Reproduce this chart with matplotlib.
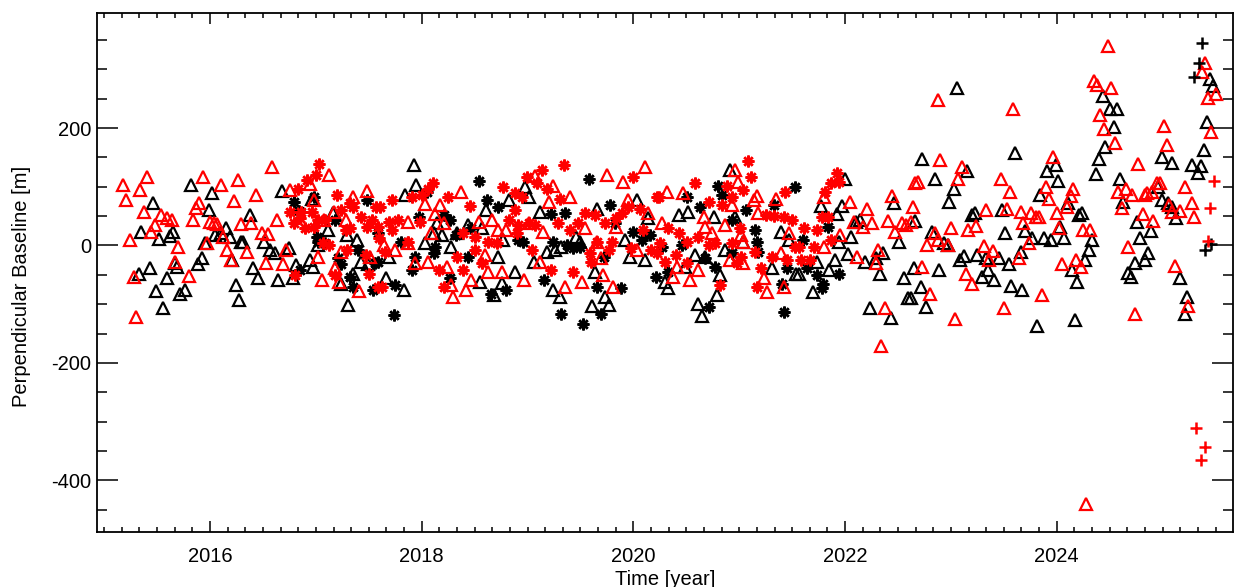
import matplotlib
matplotlib.use("Agg")
import matplotlib.pyplot as plt
from matplotlib.ticker import MultipleLocator, FormatStrFormatter

plt.rcParams['font.family'] = ['Liberation Sans', 'DejaVu Sans']

# ---- data: (time [decimal year], perpendicular baseline [m]) ----
tri_black = [
    (2015.35,23),(2015.33,-48),(2015.43,-39),(2015.49,-78),(2015.46,73),(2015.52,11),(2015.62,16),(2015.65,23),
    (2015.59,-56),(2015.56,-107),(2015.69,-36),(2015.67,-29),(2015.72,-82),(2015.76,-75),(2015.82,103),(2016.02,90),
    (2015.99,60),(2015.89,-32),(2015.92,-22),(2015.95,4),(2016.05,18),(2016.10,22),(2016.15,29),(2016.19,15),
    (2016.21,-24),(2016.25,-67),(2016.27,-92),(2016.29,6),
    (2016.38,52),(2016.31,6),(2016.41,-39),(2016.45,-56),(2016.51,6),(2016.57,-8),(2016.61,-13),(2016.64,-58),
    (2016.75,-5),(2016.78,-56),(2016.81,-33),(2016.94,-25),(2016.97,-37),(2016.68,93),(2016.96,80),(2017.11,26),
    (2017.02,1),(2017.16,56),(2017.29,18),(2017.39,10),(2017.30,-101),(2017.43,-28),(2017.49,-32),(2017.35,-48),(2017.24,-65),
    (2017.93,137),(2017.95,103),(2017.84,86),(2018.14,39),(2018.19,18),(2018.12,21),(2018.03,4),(2017.69,-19),
    (2017.66,-56),(2017.83,-76),(2018.33,21),(2018.44,35),(2018.61,61),(2018.57,29),(2018.72,-19),(2018.82,77),
    (2018.77,9),(2018.88,-45),(2018.55,-62),(2018.68,-84),(2018.76,-64),(2018.28,-2),
    (2018.98,100),(2019.01,83),(2019.12,57),(2019.18,-11),(2019.26,-8),(2019.32,-2),(2019.06,-28),(2019.46,15),
    (2019.66,63),(2019.92,9),(2020.03,77),(2020.14,46),(2019.97,-19),(2020.11,-25),(2019.24,-76),(2019.31,-88),
    (2019.61,-103),(2019.73,-87),(2019.77,-101),(2019.64,-45),(2019.50,6),
    (2020.91,128),(2020.43,52),(2020.52,57),(2020.76,49),(2020.96,49),(2021.39,23),(2021.47,9),(2020.87,-8),
    (2020.58,-16),(2020.68,-19),(2020.49,-36),(2020.82,-50),(2020.30,-62),(2020.33,-73),(2020.79,-84),(2020.61,-99),
    (2020.65,-120),(2021.31,-39),(2021.54,-48),(2021.04,6),
    (2022.00,114),(2022.73,148),(2022.85,113),(2021.77,67),(2021.97,67),(2021.92,53),(2022.10,40),(2022.14,44),
    (2022.06,15),(2022.46,72),(2022.66,42),(2022.82,23),(2022.51,6),(2021.94,6),(2021.90,-25),(2022.03,-15),
    (2022.19,-28),(2022.36,-13),(2022.33,-48),(2021.85,-41),(2021.73,-28),(2021.56,-48),(2021.70,-79),(2022.56,-56),
    (2022.65,-38),(2022.72,-70),(2022.59,-89),(2022.62,-89),(2022.76,-105),(2022.24,-107),(2022.43,-123),(2022.89,-41),(2022.29,-22),
    (2023.06,268),(2023.61,158),(2023.15,127),(2023.03,97),(2022.98,74),(2023.91,127),(2023.99,137),(2024.01,110),
    (2023.84,86),(2024.11,72),(2023.20,52),(2023.23,56),(2023.48,60),(2023.51,21),(2023.70,25),(2023.77,12),
    (2023.88,12),(2023.95,9),(2024.07,12),(2024.03,32),(2024.21,52),(2022.93,4),(2022.97,1),(2023.12,-18),
    (2023.09,-25),(2023.25,-16),(2023.33,-22),(2023.45,-22),(2023.55,-32),(2023.66,-11),(2023.29,-53),(2023.35,-41),
    (2023.41,-58),(2023.57,-69),(2023.67,-75),(2023.81,-137),(2024.17,-127),(2024.14,-41),(2024.19,-62),
    (2024.44,254),(2024.50,233),(2024.57,232),(2024.54,201),(2024.46,168),(2024.40,148),(2024.37,122),(2024.60,113),
    (2024.63,74),(2024.24,56),(2024.33,9),(2024.30,-8),(2024.27,-25),(2024.76,40),(2024.79,12),(2024.89,25),
    (2024.86,-13),(2024.83,-25),(2024.74,-30),(2024.67,-46),(2024.70,-54),(2024.99,151),(2025.09,140),(2025.28,137),
    (2025.36,135),(2025.33,124),(2025.39,162),(2025.42,211),(2025.45,283),(2025.48,271),(2024.96,99),(2024.99,77),
    (2025.05,73),(2025.09,66),(2025.13,46),(2025.16,-56),(2025.23,-87),(2025.21,-116),
]

tri_red = [
    (2015.18,103),(2015.21,78),(2015.40,116),(2015.34,94),(2015.38,57),(2015.24,10),(2015.28,-53),(2015.30,-121),
    (2015.54,52),(2015.48,35),(2015.44,23),(2015.59,46),(2015.64,44),(2015.70,-3),(2015.67,-28),(2015.80,-52),
    (2015.93,117),(2015.90,73),(2015.87,64),(2015.84,44),(2016.10,103),(2016.00,40),(2016.04,39),(2016.07,36),
    (2016.12,15),(2015.97,4),(2016.16,-7),(2016.20,-25),(2016.23,76),(2016.26,111),(2016.29,36),
    (2016.59,134),(2016.43,86),(2016.63,44),(2016.39,38),(2016.49,21),(2016.55,19),(2016.35,-11),(2016.53,-30),
    (2016.69,-32),(2016.72,-8),(2017.06,-59),(2016.76,94),(2016.94,104),(2017.12,120),(2016.98,78),(2017.35,82),
    (2017.48,93),(2017.02,-19),(2017.17,57),(2017.28,44),(2017.18,-39),(2017.22,-62),(2017.41,-77),(2017.24,-11),
    (2017.51,-19),(2017.08,44),
    (2018.37,91),(2017.87,40),(2018.17,69),(2018.13,53),(2018.21,39),(2018.09,21),(2017.75,-8),(2017.64,1),
    (2017.94,-30),(2018.06,-28),(2018.24,-36),(2018.28,-67),(2018.30,-87),(2018.42,-76),(2018.47,-59),(2018.54,40),
    (2018.66,43),(2018.72,26),(2018.80,26),(2018.60,-16),(2018.63,-45),(2018.76,-45),(2017.87,5),(2018.03,70),
    (2020.11,134),(2019.75,120),(2019.90,108),(2019.07,118),(2019.24,101),(2019.40,83),(2019.20,74),(2019.95,78),
    (2020.14,56),(2019.54,29),(2019.66,6),(2019.84,32),(2019.01,38),(2019.15,23),(2020.03,-8),(2019.12,-28),
    (2018.97,-59),(2019.35,-70),(2019.51,-62),(2019.71,-50),(2019.81,-71),(2019.69,-22),
    (2020.96,128),(2020.99,108),(2020.32,91),(2020.47,89),(2021.17,84),(2021.14,77),(2021.35,80),(2020.93,69),
    (2020.67,49),(2020.87,35),(2021.18,55),(2020.27,38),(2020.68,32),(2020.74,21),(2021.47,21),(2021.02,18),
    (2021.04,6),(2021.39,-13),(2020.91,-25),(2021.04,-30),(2020.41,-36),(2020.37,-53),(2020.53,-59),(2020.61,-42),
    (2021.23,-56),(2021.42,-70),(2021.26,-80),
    (2022.88,248),(2022.90,145),(2022.69,108),(2022.66,106),(2022.05,74),(2022.44,84),(2022.21,63),(2022.64,66),
    (2022.08,40),(2022.25,39),(2022.17,32),(2022.41,42),(2022.54,38),(2022.58,35),(2022.62,40),(2022.47,23),
    (2022.85,21),(2022.77,1),(2021.95,18),(2021.80,-2),(2022.31,-8),(2022.11,-19),(2022.29,-30),(2022.73,-36),
    (2022.80,-82),(2022.38,-107),(2022.34,-171),(2021.80,83),
    (2023.59,232),(2023.10,133),(2023.07,114),(2023.47,114),(2023.56,91),(2023.96,150),(2023.90,99),(2023.93,80),
    (2024.15,97),(2024.13,84),(2024.10,66),(2023.33,60),(2023.53,63),(2023.66,57),(2023.76,55),(2023.80,49),
    (2023.83,49),(2024.00,56),(2023.68,38),(2024.02,29),(2023.00,29),(2023.16,27),(2023.24,33),(2022.88,10),
    (2022.97,1),(2023.31,-1),(2023.40,-9),(2023.36,-25),(2023.64,-22),(2023.74,5),(2023.14,-48),(2023.20,-66),
    (2023.86,-84),(2023.50,-107),(2023.04,-126),(2024.05,-32),(2024.18,-25),
    (2024.48,340),(2024.35,281),(2024.38,273),(2024.51,268),(2024.41,223),(2024.45,199),(2024.55,175),(2024.77,138),
    (2025.01,203),(2025.04,171),(2025.40,311),(2025.37,296),(2025.43,252),(2025.50,258),(2025.46,194),(2024.58,91),
    (2024.65,97),(2024.71,86),(2024.62,64),(2024.95,106),(2024.98,106),(2024.85,89),(2024.83,86),(2024.90,91),
    (2025.21,99),(2025.28,72),(2025.30,48),(2025.06,69),(2025.09,57),(2025.16,59),(2024.81,53),(2024.91,42),
    (2024.25,27),(2024.31,26),(2024.23,-36),(2024.67,-3),(2025.12,-35),(2025.24,-103),(2024.74,-117),(2024.28,-440),
]

ast_black = [
    (2016.79,74),(2016.98,82),(2017.48,77),(2016.84,59),(2017.01,15),(2017.02,6),(2017.18,43),(2017.21,-22),
    (2017.24,-31),(2017.32,-53),(2017.35,-70),(2016.85,-42),(2017.54,-75),(2017.40,-8),(2017.56,-29),(2017.59,21),(2017.09,4),
    (2018.54,110),(2018.62,78),(2018.72,66),(2018.05,91),(2018.21,52),(2018.27,44),(2017.97,49),(2017.80,6),
    (2018.13,-2),(2018.12,-13),(2017.94,-19),(2017.91,-42),(2017.75,-67),(2017.59,-28),(2017.74,-118),(2018.44,-19),
    (2018.32,18),(2018.47,29),(2018.65,-82),(2018.80,-76),(2018.27,-56),(2018.91,9),
    (2019.58,113),(2019.78,69),(2019.22,53),(2019.35,55),(2018.96,6),(2019.24,6),(2019.43,-5),(2019.37,1),
    (2019.50,-2),(2019.72,-19),(2020.00,23),(2020.08,9),(2020.16,18),(2019.16,-59),(2019.32,-116),(2019.52,-133),
    (2019.69,-116),(2019.66,-70),(2019.88,-73),(2020.21,-53),(2019.83,38),
    (2020.80,101),(2020.84,86),(2021.53,100),(2020.51,83),(2020.63,66),(2021.33,69),(2021.06,60),(2020.93,43),
    (2021.15,26),(2021.17,6),(2021.18,-11),(2020.93,-13),(2020.68,-22),(2020.77,-36),(2020.33,-45),(2020.71,-104),
    (2021.42,-113),(2021.40,-65),(2021.45,-39),(2020.27,-2),(2020.46,1),
    (2021.84,32),(2021.64,-39),(2021.73,-50),(2021.79,-65),(2021.78,-73),(2021.94,-48),(2021.60,9),
]

ast_red = [
    (2017.03,139),(2017.00,120),(2016.83,97),(2016.92,111),(2017.20,86),(2016.76,57),(2016.86,57),(2016.96,57),
    (2016.79,38),(2016.90,29),(2016.85,46),(2017.09,44),(2017.24,60),(2017.32,72),(2017.35,66),(2017.28,26),
    (2017.32,29),(2017.43,49),(2017.53,44),(2017.48,32),(2017.57,66),(2017.12,1),(2017.07,4),(2017.29,-8),
    (2017.18,-50),(2016.80,-50),(2017.47,-16),(2017.50,-48),(2017.59,-70),(2017.02,44),(2016.98,32),
    (2018.11,106),(2018.06,97),(2018.00,86),(2017.91,83),(2017.72,77),(2017.61,66),(2018.25,83),(2018.46,68),
    (2018.77,100),(2018.88,89),(2017.69,40),(2017.78,43),(2017.72,26),(2017.59,32),(2017.98,40),(2017.87,6),
    (2017.60,12),(2017.65,-11),(2018.33,-19),(2018.16,-42),(2018.21,-70),(2017.62,-70),(2018.39,-42),(2018.50,15),
    (2018.63,6),(2018.71,4),(2018.57,-30),(2018.50,-8),(2018.88,60),(2018.82,43),(2018.39,21),
    (2019.34,137),(2019.14,128),(2018.99,117),(2019.09,106),(2019.18,97),(2018.95,83),(2019.31,80),(2020.00,117),
    (2020.22,83),(2019.95,66),(2020.06,63),(2019.54,55),(2019.64,52),(2019.29,38),(2019.40,26),(2019.48,38),
    (2019.73,38),(2019.84,46),(2018.91,35),(2019.01,38),(2019.07,35),(2018.90,21),(2019.66,6),(2019.80,6),
    (2019.77,-8),(2019.59,-13),(2019.60,-28),(2019.04,-8),(2019.22,-42),(2019.43,-45),(2020.09,26),(2019.98,-5),
    (2020.17,-8),(2020.22,-13),(2019.89,55),
    (2021.08,144),(2021.11,116),(2020.58,107),(2020.88,101),(2021.04,94),(2020.24,83),(2021.43,91),(2020.71,74),
    (2020.84,69),(2020.93,83),(2020.33,29),(2020.43,21),(2020.25,4),(2020.51,6),(2020.61,15),(2020.71,1),
    (2020.77,4),(2021.01,29),(2020.93,4),(2021.02,-19),(2021.15,-11),(2021.25,52),(2021.33,50),(2021.42,49),
    (2021.50,43),(2021.53,-2),(2021.31,-19),(2021.21,-39),(2021.17,-70),(2020.82,-67),(2020.40,-16),(2020.30,-28),
    (2020.51,-30),(2020.98,-30),(2021.45,-25),
    (2021.92,123),(2021.94,108),(2021.87,107),(2021.81,91),(2021.78,49),(2021.84,49),(2021.61,29),(2021.73,26),
    (2021.56,-2),(2021.71,-2),(2021.87,9),(2021.58,-25),(2021.67,-25),
]

plus_black = [(2025.37,345),(2025.34,310),(2025.30,287),(2025.46,2),(2025.40,-8)]
plus_red = [(2025.49,110),(2025.45,64),(2025.43,7),(2025.32,-311),(2025.40,-343),(2025.36,-366)]

x_label = "Time [year]"
y_label = "Perpendicular Baseline [m]"

# ---- figure ----
W, H = 1235, 587
fig = plt.figure(figsize=(W / 100, H / 100), dpi=100)
ax = fig.add_axes([97 / W, 1 - 532 / H, (1233 - 97) / W, (532 - 13) / H])

asterisk = (8, 2, 0)


def draw(pts, marker, color, ms, mew):
    t, b = zip(*pts)
    ax.plot(t, b, linestyle='none', marker=marker, ms=ms, mfc='none',
            mec=color, mew=mew)


draw(tri_black, '^', 'black', 8, 1.6)
draw(ast_black, asterisk, 'black', 8.5, 1.8)
draw(tri_red, '^', 'red', 8, 1.6)
draw(ast_red, asterisk, 'red', 8.5, 1.8)
draw(plus_black, '+', 'black', 8, 1.8)
draw(plus_red, '+', 'red', 8, 1.8)

ax.set_xlim(2014.932, 2025.665)
ax.set_ylim(-488, 396)

ax.xaxis.set_major_locator(MultipleLocator(2))
ax.xaxis.set_minor_locator(MultipleLocator(1 / 6))
ax.yaxis.set_major_locator(MultipleLocator(200))
ax.yaxis.set_minor_locator(MultipleLocator(50))
ax.xaxis.set_major_formatter(FormatStrFormatter('%d'))
ax.yaxis.set_major_formatter(FormatStrFormatter('%d'))

ax.tick_params(which='both', direction='in', top=True, right=True,
               width=1.1, colors='black', labelsize=14.5)
ax.tick_params(axis='x', which='major', length=8, pad=11)
ax.tick_params(axis='x', which='minor', length=3.6)
ax.tick_params(axis='y', which='major', length=15, pad=4)
ax.tick_params(axis='y', which='minor', length=7.5)

for s in ax.spines.values():
    s.set_linewidth(1.3)

ax.set_xlabel(x_label, fontsize=14.5, labelpad=2.5)
ax.set_ylabel(y_label, fontsize=14.5)
ax.yaxis.set_label_coords((31 - 97) / 1136, (532 - 286) / 519)

fig.savefig("out.png", dpi=100)
